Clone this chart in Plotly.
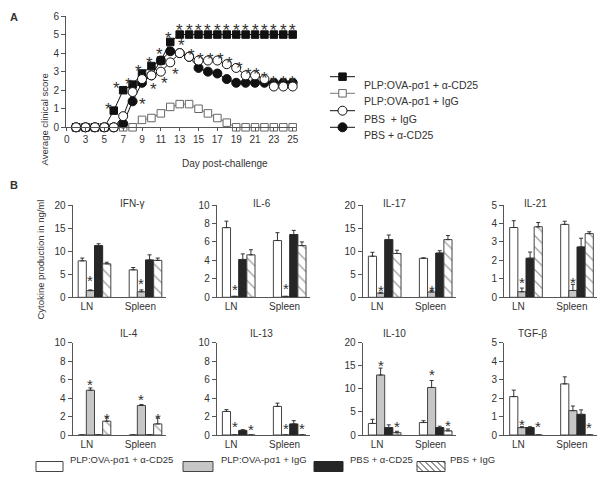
import plotly.graph_objects as go

W, H = 600, 478
FONT = "Liberation Sans, Arial, Helvetica, sans-serif"
TXT = "#333333"
AXC = "#555555"

# ---------------- Panel A data ----------------
days = [2, 3, 4, 5, 6, 7, 8, 9, 10, 11, 12, 13, 14, 15, 16, 17, 18, 19, 20, 21, 22, 23, 24, 25]
day_tickvals = [1, 3, 5, 7, 9, 11, 13, 15, 17, 19, 21, 23, 25]
day_ticktext = ["0", "3", "5", "7", "9", "11", "13", "15", "17", "19", "21", "23", "25"]

score_plp_cd25 = [0, 0, 0, 0, 0.9, 2.0, 2.3, 2.9, 3.3, 3.6, 4.6, 5.0, 5.0, 5.0, 5.0, 5.0, 5.0, 5.0, 5.0, 5.0, 5.0, 5.0, 5.0, 5.0]
score_plp_igg = [0, 0, 0, 0, 0, 0, 0, 0.4, 0.5, 0.75, 1.1, 1.25, 1.25, 1.0, 0.75, 0.5, 0.25, 0, 0, 0, 0, 0, 0, 0]
score_pbs_igg = [0, 0, 0, 0, 0, 0.6, 1.9, 2.6, 2.8, 3.0, 3.5, 4.0, 3.8, 3.6, 3.6, 3.6, 3.4, 3.2, 2.8, 2.8, 2.6, 2.2, 2.2, 2.2]
score_pbs_cd25 = [0, 0, 0, 0, 0, 0.2, 1.4, 2.4, 2.8, 3.6, 4.1, 4.0, 3.8, 3.2, 3.0, 2.9, 2.6, 2.4, 2.4, 2.4, 2.4, 2.4, 2.4, 2.4]

star_a_day = [5.45, 6.3, 7.55, 8.6, 9.75, 10.85, 11.8, 13, 14, 15, 16, 17, 18, 19, 20, 21, 22, 23, 24, 25,
              9.05, 10.25, 11.35, 12.55, 13.2, 14.25, 15.25, 16.3, 17.3, 18.25, 19.3, 20.3, 21.2, 22.05, 23, 24, 25]
star_a_score = [1.15, 2.3, 2.5, 3.2, 3.65, 4.15, 5.0, 5.42, 5.42, 5.42, 5.42, 5.42, 5.42, 5.42, 5.42, 5.42, 5.42, 5.42, 5.42, 5.42,
                1.45, 2.25, 2.55, 3.05, 4.6, 4.1, 3.85, 3.85, 3.85, 3.65, 3.4, 3.05, 3.05, 2.85, 2.65, 2.65, 2.65]

# ---------------- Panel B data ----------------
cytokines = ["IFN-γ", "IL-6", "IL-17", "IL-21", "IL-4", "IL-13", "IL-10", "TGF-β"]
tissues = ["LN", "Spleen"]
cyto_ymax = [20, 10, 20, 5, 10, 10, 20, 5]
cyto_dtick = [5, 2, 5, 1, 2, 2, 5, 1]
group_names = ["PLP:OVA-pσ1 + α-CD25", "PLP:OVA-pσ1 + IgG", "PBS + α-CD25", "PBS + IgG"]

# each entry: [LN, Spleen]
mean_plp_cd25 = [[7.9, 5.95], [7.55, 6.15], [8.9, 8.45], [3.78, 3.95], [0, 0], [2.55, 3.1], [2.5, 2.7], [2.08, 2.77]]
sem_plp_cd25 = [[0.6, 0.5], [0.7, 0.85], [0.85, 0.1], [0.37, 0.17], [0, 0], [0.2, 0.35], [0.9, 0.4], [0.35, 0.38]]
mean_plp_igg = [[1.45, 1.2], [0.1, 0.1], [0.9, 1.15], [0.3, 0.37], [4.85, 3.2], [0, 0], [13.0, 10.3], [0.4, 1.32]]
sem_plp_igg = [[0.15, 0.4], [0, 0], [0.2, 0.35], [0.2, 0.33], [0.25, 0.1], [0, 0], [1.5, 1.5], [0.05, 0.25]]
mean_pbs_cd25 = [[11.2, 8.1], [4.1, 6.8], [12.5, 9.6], [2.12, 2.73], [0, 0], [0.5, 1.2], [1.6, 1.6], [0.4, 1.12]]
sem_pbs_cd25 = [[0.4, 1.1], [0.6, 0.45], [1.0, 0.5], [0.33, 0.47], [0, 0], [0.08, 0.35], [0.6, 0.3], [0.05, 0.24]]
mean_pbs_igg = [[7.25, 8.0], [4.6, 5.6], [9.5, 12.5], [3.82, 3.45], [1.5, 1.2], [0, 0], [0.5, 0.9], [0, 0]]
sem_pbs_igg = [[0.35, 0.5], [0.55, 0.4], [0.7, 0.9], [0.23, 0.1], [0.45, 0.65], [0, 0], [0.3, 0.4], [0, 0]]

star_b_panel = [0, 0, 1, 1, 2, 2, 3, 3, 4, 4, 4, 4, 5, 5, 5, 5, 6, 6, 6, 6, 7, 7, 7]
star_b_tissue = [0, 1, 0, 1, 0, 1, 0, 1, 0, 0, 1, 1, 0, 0, 1, 1, 0, 0, 1, 1, 0, 0, 1]
star_b_group = [1, 1, 1, 1, 1, 1, 1, 1, 1, 3, 1, 3, 1, 3, 1, 3, 1, 3, 1, 3, 1, 3, 3]
star_b_value = [4.5, 3.8, 1.2, 1.35, 2.3, 2.3, 1.0, 1.0, 5.9, 2.2, 4.2, 2.15, 1.27, 1.0, 1.1, 1.1,
                15.9, 2.5, 13.8, 2.8, 0.78, 0.63, 0.58]

# ---------------- layout helpers ----------------
def px(x):
    return x / W

def py(y):
    return 1 - y / H

fig = go.Figure()
shapes = []

# ---------------- Panel A ----------------
line_series = [
    (score_plp_igg, "PLP:OVA-pσ1 + IgG", "square", "white", "#666666", 7.5, "#777777"),
    (score_plp_cd25, "PLP:OVA-pσ1 + α-CD25", "square", "#111111", "#111111", 7.5, "#111111"),
    (score_pbs_cd25, "PBS + α-CD25", "circle", "#111111", "#111111", 9, "#111111"),
    (score_pbs_igg, "PBS\u00a0 + IgG", "circle", "white", "#111111", 9, "#111111"),
]
for ys, name, sym, fc, ec, sz, lc in line_series:
    fig.add_trace(go.Scatter(x=days, y=ys, name=name, mode="lines+markers",
                             marker=dict(symbol=sym, color=fc, size=sz, line=dict(color=ec, width=1)),
                             line=dict(color=lc, width=1), showlegend=False, cliponaxis=False,
                             xaxis="x", yaxis="y"))

for d, s in zip(star_a_day, star_a_score):
    fig.add_annotation(x=d, y=s, xref="x", yref="y", text="*", showarrow=False,
                       font=dict(size=17, color=TXT, family=FONT), yshift=-4)

# manual legend for panel A (order as in the reference)
legend_a_order = [1, 0, 3, 2]
legend_a_rows = [76.7, 93.3, 110.7, 127.3]
for row_y, idx in zip(legend_a_rows, legend_a_order):
    _, name, sym, fc, ec, sz, lc = line_series[idx]
    shapes.append(dict(type="line", xref="paper", yref="paper", x0=px(330), x1=px(355),
                       y0=py(row_y), y1=py(row_y), line=dict(color=lc, width=1)))
    half = sz / 2
    shapes.append(dict(type="rect" if sym == "square" else "circle", xref="paper", yref="paper",
                       x0=px(342.5 - half), x1=px(342.5 + half), y0=py(row_y + half), y1=py(row_y - half),
                       fillcolor=fc, line=dict(color=ec, width=1)))
    fig.add_annotation(x=px(362), y=py(row_y), xref="paper", yref="paper", text=name, showarrow=False,
                       xanchor="left", font=dict(size=10.5, color=TXT, family=FONT))

# ---------------- Panel B ----------------
means = [mean_plp_cd25, mean_plp_igg, mean_pbs_cd25, mean_pbs_igg]
sems = [sem_plp_cd25, sem_plp_igg, sem_pbs_cd25, sem_pbs_igg]
bar_markers = [
    dict(color="#ffffff", line=dict(color="#444444", width=1)),
    dict(color="#c6c6c6", line=dict(color="#444444", width=1)),
    dict(color="#262626", line=dict(color="#262626", width=1)),
    dict(color="#ffffff", line=dict(color="#444444", width=1),
         pattern=dict(shape="\\", fgcolor="#333333", bgcolor="#ffffff", size=8, solidity=0.15)),
]

col_left = [72.5, 216.7, 362.7, 504.0]
col_width = 93.0
row_top = [205.0, 342.7]
row_height = 92.3
unit_px = 51.0
lead_px = 22.0
bar_w = 0.16

layout_axes = {}
for k in range(8):
    r, c = divmod(k, 4)
    n = k + 2
    xa, ya = f"x{n}", f"y{n}"
    for g in range(4):
        fig.add_trace(go.Bar(
            x=[0, 1], y=means[g][k], name=group_names[g], showlegend=False,
            marker=bar_markers[g], offsetgroup=str(g),
            error_y=dict(type="data", symmetric=False, array=sems[g][k], arrayminus=[0, 0],
                         color="#333333", thickness=1, width=2),
            xaxis=xa, yaxis=ya))
    x0 = col_left[c]
    y0 = row_top[r]
    layout_axes[f"xaxis{n}"] = dict(
        domain=[px(x0), px(x0 + col_width)], anchor=ya, automargin=False,
        range=[-lead_px / unit_px, (col_width - lead_px) / unit_px],
        tickvals=[-0.15, 0.9], ticktext=tissues, ticks="", showline=True, linecolor=AXC,
        linewidth=1, showgrid=False, zeroline=False, fixedrange=True,
        tickfont=dict(size=10, color=TXT, family=FONT))
    layout_axes[f"yaxis{n}"] = dict(
        domain=[py(y0 + row_height), py(y0)], anchor=xa, automargin=False,
        range=[0, cyto_ymax[k]], dtick=cyto_dtick[k], tick0=0, ticks="outside", ticklen=4,
        tickcolor=AXC, showline=True, linecolor=AXC, linewidth=1, showgrid=False,
        zeroline=False, tickfont=dict(size=10, color=TXT, family=FONT))
    fig.add_annotation(x=px(x0 + 45), y=py(y0 - 2), xref="paper", yref="paper", text=cytokines[k],
                       showarrow=False, font=dict(size=10, color=TXT, family=FONT))

for p, t, g, v in zip(star_b_panel, star_b_tissue, star_b_group, star_b_value):
    n = p + 2
    fig.add_annotation(x=t + (g - 1.5) * bar_w, y=v, xref=f"x{n}", yref=f"y{n}", text="*",
                       showarrow=False, font=dict(size=15, color=TXT, family=FONT), yshift=-3.5)

# ---------------- bottom legend (manual) ----------------
leg_boxes = [(36, 63), (183, 213), (314, 343), (417, 445)]
leg_text_x = [68, 219, 348, 448]
ly0, ly1 = 461.5, 471.5
for g, (bx0, bx1) in enumerate(leg_boxes):
    shapes.append(dict(type="rect", xref="paper", yref="paper", x0=px(bx0), x1=px(bx1),
                       y0=py(ly1), y1=py(ly0), fillcolor=bar_markers[g]["color"],
                       line=dict(color=bar_markers[g]["line"]["color"], width=1)))
    fig.add_annotation(x=px(leg_text_x[g]), y=py((ly0 + ly1) / 2), xref="paper", yref="paper",
                       text=group_names[g], showarrow=False, xanchor="left",
                       font=dict(size=9.5, color=TXT, family=FONT))
hx0, hx1 = leg_boxes[3]
cst = hx0 - (ly1 - ly0)
while cst < hx1:
    ya_ = max(ly0, ly0 + hx0 - cst)
    yb_ = min(ly1, ly0 + hx1 - cst)
    if yb_ > ya_:
        shapes.append(dict(type="line", xref="paper", yref="paper",
                           x0=px(cst + (ya_ - ly0)), y0=py(ya_),
                           x1=px(cst + (yb_ - ly0)), y1=py(yb_),
                           line=dict(color="#333333", width=1)))
    cst += 6

# ---------------- text labels ----------------
fig.add_annotation(x=px(8), y=py(9), xref="paper", yref="paper", text="<b>A</b>", showarrow=False,
                   font=dict(size=11, color=TXT, family=FONT))
fig.add_annotation(x=px(8), y=py(185), xref="paper", yref="paper", text="<b>B</b>", showarrow=False,
                   font=dict(size=11, color=TXT, family=FONT))
fig.add_annotation(x=px(37), y=py(72), xref="paper", yref="paper", text="Average clinical score",
                   showarrow=False, textangle=-90, font=dict(size=9.5, color=TXT, family=FONT))
fig.add_annotation(x=px(180), y=py(156), xref="paper", yref="paper", text="Day post-challenge",
                   showarrow=False, font=dict(size=10, color=TXT, family=FONT))
fig.add_annotation(x=px(32), y=py(322), xref="paper", yref="paper", text="Cytokine production in ng/ml",
                   showarrow=False, textangle=-90, font=dict(size=9.5, color=TXT, family=FONT))

fig.update_layout(
    width=W, height=H, margin=dict(l=0, r=0, t=0, b=0, pad=0, autoexpand=False),
    paper_bgcolor="white", plot_bgcolor="white",
    font=dict(family=FONT, color=TXT, size=10),
    barmode="group", bargap=0.36, bargroupgap=0,
    showlegend=False, hovermode=False,
    xaxis=dict(domain=[px(66), px(296)], anchor="y", range=[0.93, 25.35], automargin=False,
               tickvals=day_tickvals, ticktext=day_ticktext, ticks="outside", ticklen=3,
               tickcolor=AXC, showline=True, linecolor=AXC, showgrid=False, zeroline=False,
               tickfont=dict(size=10, color=TXT, family=FONT)),
    yaxis=dict(domain=[py(127.3), py(16)], anchor="x", range=[0, 6], dtick=1, ticks="outside",
               ticklen=4, tickcolor=AXC, showline=True, linecolor=AXC, showgrid=False,
               zeroline=False, automargin=False, tickfont=dict(size=10, color=TXT, family=FONT)),
    shapes=shapes,
    **layout_axes,
)

fig.write_html("out.html", config={"displayModeBar": False},
               post_script="document.body.style.margin='0px';document.body.style.overflow='hidden';")
